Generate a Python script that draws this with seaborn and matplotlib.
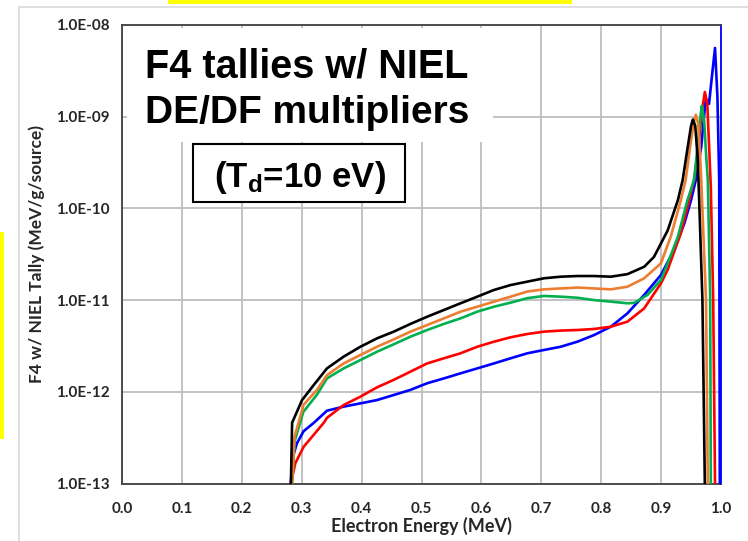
import numpy as np
import pandas as pd
import seaborn as sns
import matplotlib
matplotlib.use("Agg")
import matplotlib.pyplot as plt
from matplotlib.patches import Rectangle

# ---------------- data ----------------
energy_black = [0.282, 0.284, 0.3005, 0.3194, 0.3422, 0.3701, 0.398, 0.4259, 0.4537, 0.4816,
                0.5095, 0.5374, 0.5652, 0.5931, 0.621, 0.6488, 0.6767, 0.7046, 0.7324, 0.7603,
                0.7882, 0.8161, 0.8439, 0.8718, 0.888, 0.911, 0.928, 0.936, 0.944, 0.950,
                0.953, 0.957, 0.961, 0.963, 0.969, 0.973]
tally_black = [1.0e-13, 4.6e-13, 8.1e-13, 1.17e-12, 1.80e-12, 2.42e-12, 3.10e-12, 3.83e-12, 4.53e-12, 5.50e-12,
               6.59e-12, 7.80e-12, 9.23e-12, 1.09e-11, 1.29e-11, 1.46e-11, 1.59e-11, 1.73e-11, 1.80e-11, 1.83e-11,
               1.83e-11, 1.80e-11, 1.92e-11, 2.31e-11, 2.95e-11, 5.75e-11, 1.23e-10, 2.04e-10, 4.47e-10, 7.94e-10,
               9.33e-10, 7.94e-10, 3.55e-10, 1.58e-10, 1.0e-11, 1.0e-13]

energy_orange = [0.284, 0.2881, 0.3032, 0.3256, 0.3422, 0.3701, 0.398, 0.4259, 0.4537, 0.4816,
                 0.5095, 0.5374, 0.5652, 0.5931, 0.621, 0.6488, 0.6767, 0.7046, 0.7324, 0.7603,
                 0.7882, 0.8161, 0.8439, 0.8718, 0.8997, 0.916, 0.933, 0.941, 0.948, 0.954,
                 0.958, 0.962, 0.965, 0.967, 0.975, 0.978]
tally_orange = [1.0e-13, 3.24e-13, 7.24e-13, 1.05e-12, 1.52e-12, 2.04e-12, 2.52e-12, 3.10e-12, 3.73e-12, 4.53e-12,
                5.35e-12, 6.32e-12, 7.48e-12, 8.47e-12, 9.62e-12, 1.09e-11, 1.24e-11, 1.31e-11, 1.34e-11, 1.37e-11,
                1.34e-11, 1.31e-11, 1.40e-11, 1.73e-11, 2.52e-11, 4.90e-11, 1.23e-10, 2.04e-10, 4.47e-10, 8.32e-10,
                1.05e-9, 8.32e-10, 3.98e-10, 2.04e-10, 1.0e-11, 1.0e-13]

energy_green = [0.284, 0.2881, 0.3027, 0.3256, 0.3422, 0.3701, 0.398, 0.4259, 0.4537, 0.4816,
                0.5095, 0.5374, 0.5652, 0.5931, 0.621, 0.6488, 0.6767, 0.7046, 0.7324, 0.7603,
                0.7882, 0.8161, 0.8439, 0.8551, 0.8774, 0.8997, 0.911, 0.928, 0.944, 0.955,
                0.962, 0.966, 0.968, 0.972, 0.975, 0.978, 0.982, 0.983]
tally_green = [1.0e-13, 2.88e-13, 6.03e-13, 9.33e-13, 1.40e-12, 1.80e-12, 2.22e-12, 2.74e-12, 3.30e-12, 3.99e-12,
               4.72e-12, 5.50e-12, 6.32e-12, 7.48e-12, 8.47e-12, 9.38e-12, 1.05e-11, 1.11e-11, 1.09e-11, 1.06e-11,
               1.00e-11, 9.62e-12, 9.23e-12, 9.33e-12, 1.14e-11, 1.66e-11, 2.51e-11, 4.90e-11, 1.23e-10, 2.04e-10,
               5.6e-10, 1.05e-9, 1.32e-9, 8.91e-10, 3.98e-10, 2.04e-10, 1.0e-11, 1.0e-13]

energy_red = [0.282, 0.2893, 0.3032, 0.3199, 0.3366, 0.3422, 0.3701, 0.398, 0.4259, 0.4537,
              0.4816, 0.5095, 0.5374, 0.5652, 0.5931, 0.621, 0.6488, 0.6767, 0.7046, 0.7324,
              0.7603, 0.7882, 0.8161, 0.8439, 0.8718, 0.888, 0.8997, 0.911, 0.933, 0.947,
              0.955, 0.962, 0.968, 0.973, 0.977, 0.980, 0.983, 0.987, 0.990]
tally_red = [1.0e-13, 1.66e-13, 2.51e-13, 3.39e-13, 4.57e-13, 5.2e-13, 7.18e-13, 8.85e-13, 1.12e-12, 1.35e-12,
             1.66e-12, 2.04e-12, 2.32e-12, 2.63e-12, 3.10e-12, 3.52e-12, 3.93e-12, 4.27e-12, 4.53e-12, 4.65e-12,
             4.72e-12, 4.84e-12, 5.13e-12, 5.82e-12, 8.13e-12, 1.17e-11, 1.52e-11, 2.14e-11, 5.37e-11, 1.23e-10,
             2.04e-10, 4.47e-10, 1.12e-9, 1.86e-9, 1.41e-9, 5.01e-10, 1.70e-10, 1.0e-11, 1.0e-13]

energy_blue = [0.282, 0.2838, 0.2921, 0.3032, 0.3199, 0.3422, 0.3701, 0.398, 0.4259, 0.4537,
               0.4816, 0.5095, 0.5374, 0.5652, 0.5931, 0.621, 0.6488, 0.6767, 0.7046, 0.7324,
               0.7603, 0.7882, 0.8161, 0.8439, 0.8718, 0.8997, 0.922, 0.939, 0.950, 0.958,
               0.967, 0.974, 0.977, 0.980, 0.985, 0.990, 0.994, 0.997, 0.998]
tally_blue = [1.0e-13, 1.82e-13, 2.75e-13, 3.72e-13, 4.57e-13, 6.22e-13, 6.89e-13, 7.48e-13, 8.13e-13, 9.23e-13,
              1.05e-12, 1.24e-12, 1.40e-12, 1.59e-12, 1.80e-12, 2.04e-12, 2.32e-12, 2.63e-12, 2.86e-12, 3.10e-12,
              3.52e-12, 4.16e-12, 5.13e-12, 7.18e-12, 1.14e-11, 1.88e-11, 3.55e-11, 6.92e-11, 1.23e-10, 2.04e-10,
              4.68e-10, 1.45e-9, 1.51e-9, 1.38e-9, 2.8e-9, 5.62e-9, 1.66e-9, 2.04e-10, 1.0e-13]

series_names = ["blue", "red", "green", "orange", "black"]
series_colors = ["#0000FF", "#FF0000", "#00B050", "#ED7D31", "#000000"]
x_ticks = [0.0, 0.1, 0.2, 0.3, 0.4, 0.5, 0.6, 0.7, 0.8, 0.9, 1.0]
y_ticks = [1e-13, 1e-12, 1e-11, 1e-10, 1e-9, 1e-8]
y_tick_labels = ["1.0E-13", "1.0E-12", "1.0E-11", "1.0E-10", "1.0E-09", "1.0E-08"]

energies = {"black": energy_black, "orange": energy_orange, "green": energy_green,
            "red": energy_red, "blue": energy_blue}
tallies = {"black": tally_black, "orange": tally_orange, "green": tally_green,
           "red": tally_red, "blue": tally_blue}

frames = []
for name in series_names:
    frames.append(pd.DataFrame({"energy": energies[name], "tally": tallies[name], "series": name}))
df = pd.concat(frames, ignore_index=True)

# ---------------- figure ----------------
sns.set_theme(style="white")
plt.rcParams["font.family"] = ["Lato", "DejaVu Sans"]
plt.rcParams["mathtext.fontset"] = "custom"
plt.rcParams["mathtext.rm"] = "Liberation Sans:bold"
plt.rcParams["mathtext.it"] = "Liberation Sans:bold"
plt.rcParams["mathtext.bf"] = "Liberation Sans:bold"

W, H = 748, 541
fig = plt.figure(figsize=(W / 100, H / 100), dpi=100)
fig.patch.set_facecolor("white")


def fx(px):
    return px / W


def fy(py):
    return 1 - py / H


ax = fig.add_axes([fx(122), fy(483.5), fx(721) - fx(122), fy(25) - fy(483.5)])

sns.lineplot(data=df, x="energy", y="tally", hue="series", hue_order=series_names,
             palette=dict(zip(series_names, series_colors)), estimator=None, sort=False,
             linewidth=1.9, legend=False, ax=ax, zorder=3)

ax.set_yscale("log")
ax.set_xlim(0, 1.0)
ax.set_ylim(1e-13, 1e-8)
ax.set_xticks(x_ticks)
ax.set_xticklabels([f"{v:.1f}" for v in x_ticks])
ax.set_yticks(y_ticks)
ax.set_yticklabels(y_tick_labels)
ax.yaxis.set_minor_locator(matplotlib.ticker.NullLocator())
ax.grid(True, which="major", color="#BDBDBD", linewidth=1.3, zorder=0)
ax.set_axisbelow(True)
ax.tick_params(axis="y", length=0, labelsize=11, labelcolor="#262626", pad=9)
ax.tick_params(axis="x", length=0, labelsize=11, labelcolor="#262626", pad=13)
for lab in ax.get_xticklabels() + ax.get_yticklabels():
    lab.set_fontweight("bold")
for s in ["left", "bottom", "top"]:
    ax.spines[s].set_color("#404040")
    ax.spines[s].set_linewidth(1.3)
ax.spines["right"].set_color("#0000FF")
ax.spines["right"].set_linewidth(1.3)

ax.set_xlabel("Electron Energy (MeV)", fontsize=13, fontweight="bold", color="#262626", labelpad=1)
ax.set_ylabel("F4 w/ NIEL Tally (MeV/g/source)", fontsize=12.5, fontweight="bold", color="#262626", labelpad=8)

# outer light-grey chart border (left/top visible)
fig.patches.append(Rectangle((fx(19), fy(560)), 1.2, fy(7) - fy(560), transform=fig.transFigure,
                             facecolor="none", edgecolor="#D9D9D9", linewidth=1.2, zorder=0))

# yellow highlight bars
fig.patches.append(Rectangle((fx(168), fy(4)), fx(572) - fx(168), fy(0) - fy(4), transform=fig.transFigure,
                             facecolor="#FFFF00", edgecolor="none", zorder=1))
fig.patches.append(Rectangle((fx(0), fy(439)), fx(4), fy(232) - fy(439), transform=fig.transFigure,
                             facecolor="#FFFF00", edgecolor="none", zorder=1))

# white title box over the grid
ax.add_patch(Rectangle((fx(127), fy(142)), fx(493) - fx(127), fy(28) - fy(142), transform=fig.transFigure,
                       facecolor="white", edgecolor="none", zorder=4))
fig.text(fx(145), fy(77), "F4 tallies w/ NIEL", fontsize=28.5, fontweight="bold",
         family=["Liberation Sans", "DejaVu Sans"], color="black", va="baseline", ha="left", zorder=6)
fig.text(fx(145), fy(123), "DE/DF multipliers", fontsize=28, fontweight="bold",
         family=["Liberation Sans", "DejaVu Sans"], color="black", va="baseline", ha="left", zorder=6)

# T_d box
ax.add_patch(Rectangle((fx(193), fy(202)), fx(405) - fx(193), fy(144) - fy(202), transform=fig.transFigure,
                       facecolor="white", edgecolor="black", linewidth=1.5, zorder=5))
fig.text(fx(300), fy(187), r"(T$_{\mathrm{d}}$=10 eV)", fontsize=25, fontweight="bold",
         family=["Liberation Sans", "DejaVu Sans"], color="black", va="baseline", ha="center", zorder=6)

fig.savefig("out.png", dpi=100, facecolor="white")
